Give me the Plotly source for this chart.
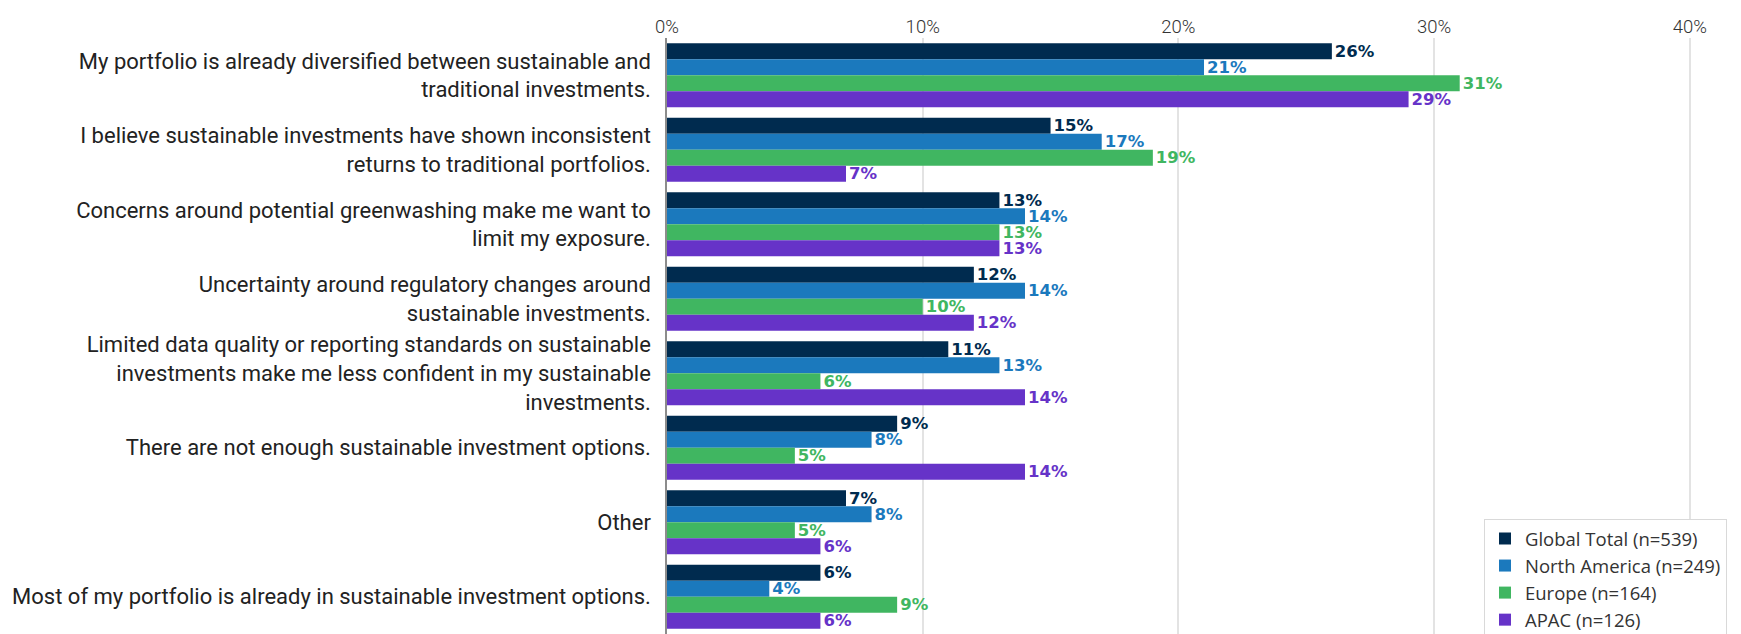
import plotly.graph_objects as go

categories = [
    "My portfolio is already diversified between sustainable and<br>traditional investments.",
    "I believe sustainable investments have shown inconsistent<br>returns to traditional portfolios.",
    "Concerns around potential greenwashing make me want to<br>limit my exposure.",
    "Uncertainty around regulatory changes around<br>sustainable investments.",
    "Limited data quality or reporting standards on sustainable<br>investments make me less confident in my sustainable<br>investments.",
    "There are not enough sustainable investment options.",
    "Other",
    "Most of my portfolio is already in sustainable investment options.",
]

global_total = [26, 15, 13, 12, 11, 9, 7, 6]
north_america = [21, 17, 14, 14, 13, 8, 8, 4]
europe = [31, 19, 13, 10, 6, 5, 5, 9]
apac = [29, 7, 13, 12, 14, 14, 6, 6]

series_names = ["Global Total (n=539)", "North America (n=249)", "Europe (n=164)", "APAC (n=126)"]
series_values = [global_total, north_america, europe, apac]
colors = ["#002B4F", "#1B79BD", "#40B661", "#6633C8"]

tick_vals = [0, 0.1, 0.2, 0.3, 0.4]
tick_text = ["0%", "10%", "20%", "30%", "40%"]

fig = go.Figure()
for name, vals, col in zip(series_names, series_values, colors):
    fig.add_trace(go.Bar(
        y=categories,
        x=[v / 100 for v in vals],
        name=name,
        orientation="h",
        marker=dict(color=col, line=dict(width=0)),
        text=[f"{v}%" for v in vals],
        textposition="outside",
        constraintext="none",
        cliponaxis=False,
        textfont=dict(family="DejaVu Sans", size=16.5, color=col, weight="bold"),
    ))

fig.update_layout(
    width=1741, height=634,
    margin=dict(l=667, r=0, t=38, b=0, autoexpand=False),
    barmode="group",
    bargap=0.14,
    bargroupgap=0,
    plot_bgcolor="white",
    paper_bgcolor="white",
    font=dict(family="Roboto", size=21, color="#222"),
    legend=dict(
        x=0.7607, y=0.193, xanchor="left", yanchor="top",
        bordercolor="#d9d9d9", borderwidth=1, bgcolor="white",
        font=dict(family="Open Sans", size=18.5, color="#333"),
        traceorder="normal",
        itemclick=False,
        tracegroupgap=0,
    ),
    xaxis=dict(
        side="top",
        range=[0, 0.42],
        tickvals=tick_vals,
        ticktext=tick_text,
        showgrid=True,
        gridcolor="#e3e3e3",
        gridwidth=1.5,
        zeroline=False,
        ticks="",
        tickfont=dict(family="Roboto", size=18.5, color="#333", weight=300),
    ),
    yaxis=dict(
        autorange="reversed",
        showline=True,
        linecolor="#8c8c8c",
        linewidth=1.5,
        ticks="",
        ticklabelstandoff=10,
        tickfont=dict(family="Roboto", size=22, color="#222"),
    ),
)

fig.write_html("out.html")
